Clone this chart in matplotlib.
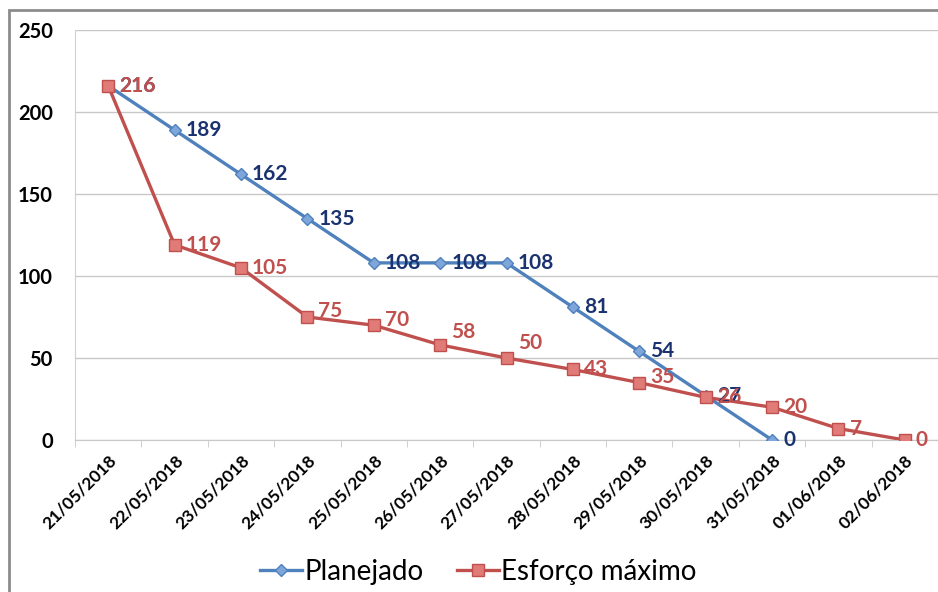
import matplotlib
matplotlib.use("Agg")
import matplotlib.pyplot as plt
from matplotlib.patches import Rectangle

plt.rcParams["font.family"] = ["Lato", "DejaVu Sans"]

datas = ["21/05/2018", "22/05/2018", "23/05/2018", "24/05/2018", "25/05/2018",
         "26/05/2018", "27/05/2018", "28/05/2018", "29/05/2018", "30/05/2018",
         "31/05/2018", "01/06/2018", "02/06/2018"]
planejado = [216, 189, 162, 135, 108, 108, 108, 81, 54, 27, 0]
esforco = [216, 119, 105, 75, 70, 58, 50, 43, 35, 26, 20, 7, 0]

# small vertical nudges (points) for the red labels, as in the original
esforco_dy = [0, 0, 0, 4, 4, 9, 11, 0, 4, 0, 0, 0, 0]

BLUE = "#4F81BD"
BLUE_TXT = "#1A3370"
RED = "#C0504D"

fig = plt.figure(figsize=(9.38, 5.92), dpi=100)
ax = fig.add_axes([75 / 938, 1 - 440 / 592, 863 / 938, 410 / 592])

x_p = list(range(len(planejado)))
x_e = list(range(len(esforco)))
ax.plot(x_p, planejado, color=BLUE, lw=2.4, marker="D", ms=6,
        mfc="#7FA6DA", mec=BLUE, label="Planejado", zorder=3)
ax.plot(x_e, esforco, color=RED, lw=2.4, marker="s", ms=8,
        mfc="#E07B78", mec=RED, label="Esforço máximo", zorder=3)

for x, v in zip(x_p, planejado):
    ax.annotate(str(v), (x, v), xytext=(8, 0), textcoords="offset points",
                ha="left", va="center", fontsize=15, fontweight="bold",
                color=BLUE_TXT, zorder=4)
for x, v, dy in zip(x_e, esforco, esforco_dy):
    ax.annotate(str(v), (x, v), xytext=(8, dy), textcoords="offset points",
                ha="left", va="center", fontsize=15, fontweight="bold",
                color=RED, zorder=4)

ax.set_xlim(-0.5, len(datas) - 0.5)
ax.set_ylim(0, 250)
ax.set_yticks([0, 50, 100, 150, 200, 250])
ax.yaxis.grid(True, color="#C8C8C8", lw=1)
ax.set_axisbelow(True)
ax.set_xticks(range(len(datas)))
ax.set_xticklabels(datas, rotation=45, ha="right", rotation_mode="anchor",
                   fontsize=12.5, fontweight="bold")
ax.set_xticks([i - 0.5 for i in range(len(datas) + 1)], minor=True)
ax.tick_params(axis="x", which="major", length=0, pad=9)
ax.tick_params(axis="x", which="minor", length=5, color="#C8C8C8")
ax.tick_params(axis="y", length=0, pad=16, labelsize=14.5)
for lab in ax.get_yticklabels():
    lab.set_fontweight("bold")
for s in ["top", "right"]:
    ax.spines[s].set_visible(False)
ax.spines["left"].set_color("#D0D0D0")
ax.spines["bottom"].set_color("#C8C8C8")

fig.legend(loc="lower center", bbox_to_anchor=(0.51, -0.03), ncol=2,
           frameon=False, fontsize=20, handlelength=1.5, handletextpad=0.1,
           columnspacing=1.2)

fig.patches.append(Rectangle((9 / 938, -0.1), 1.2, 1.1 - 10 / 592,
                             transform=fig.transFigure, fill=False,
                             ec="#8C8C8C", lw=2))

fig.savefig("out.png", dpi=100)
